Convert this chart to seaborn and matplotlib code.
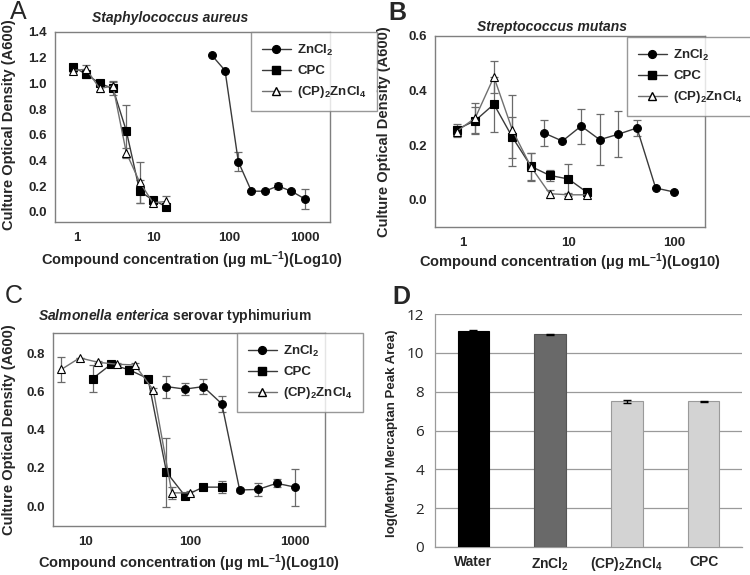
import numpy as np
import pandas as pd
import matplotlib
matplotlib.use("Agg")
import matplotlib.pyplot as plt
from matplotlib.lines import Line2D
from matplotlib.ticker import FixedLocator, FixedFormatter, NullLocator
import seaborn as sns

sns.set_theme(style="white")
plt.rcParams['font.family'] = ['Liberation Sans', 'DejaVu Sans']
plt.rcParams['font.weight'] = 'bold'
plt.rcParams['mathtext.fontset'] = 'custom'
plt.rcParams['mathtext.rm'] = 'Liberation Sans:bold'
plt.rcParams['mathtext.bf'] = 'Liberation Sans:bold'
plt.rcParams['mathtext.it'] = 'Liberation Sans:italic:bold'

# ---------------- data ----------------
# Panel A: Staphylococcus aureus
a_low_x = [0.88, 1.32, 1.98, 2.96, 4.44, 6.67, 10, 15]
a_cpc_y = [1.13, 1.07, 1.00, 0.96, 0.63, 0.16, 0.09, 0.04]
a_cpc_e = [0.02, 0.03, 0.01, 0.05, 0.20, 0.09, 0.02, 0.01]
a_cp2_y = [1.10, 1.11, 0.96, 0.98, 0.46, 0.23, 0.07, 0.08]
a_cp2_e = [0.01, 0.03, 0.03, 0.04, 0.04, 0.16, 0.01, 0.04]
a_zn_x = [59.3, 88.9, 133, 198, 296, 444, 667, 1000]
a_zn_y = [1.22, 1.10, 0.39, 0.16, 0.16, 0.20, 0.16, 0.10]
a_zn_e = [0.0, 0.0, 0.075, 0.01, 0.01, 0.02, 0.01, 0.075]

# Panel B: Streptococcus mutans
b_low_x = [0.88, 1.32, 1.98, 2.96, 4.44, 6.67, 10, 15]
b_cpc_y = [0.257, 0.29, 0.35, 0.229, 0.122, 0.089, 0.076, 0.027]
b_cpc_e = [0.02, 0.05, 0.10, 0.075, 0.05, 0.02, 0.055, 0.005]
b_cp2_y = [0.25, 0.30, 0.45, 0.255, 0.12, 0.022, 0.018, 0.018]
b_cp2_e = [0.02, 0.055, 0.06, 0.13, 0.05, 0.015, 0.005, 0.005]
b_zn_x = [5.85, 8.78, 13.2, 19.75, 29.6, 44.4, 66.7, 100]
b_zn_y = [0.245, 0.215, 0.27, 0.22, 0.24, 0.263, 0.043, 0.028]
b_zn_e = [0.047, 0.0, 0.064, 0.094, 0.085, 0.03, 0.0, 0.0]

# Panel C: Salmonella enterica serovar typhimurium
c_cp2_x = [5.9, 8.8, 13.2, 19.8, 29.6, 44.4, 66.7, 100]
c_cp2_y = [0.715, 0.775, 0.752, 0.742, 0.738, 0.607, 0.07, 0.07]
c_cp2_e = [0.065, 0.0, 0.005, 0.005, 0.01, 0.01, 0.03, 0.01]
c_cpc_x = [11.7, 17.6, 26.3, 39.5, 59.3, 88.9, 133, 200]
c_cpc_y = [0.667, 0.742, 0.712, 0.667, 0.178, 0.055, 0.10, 0.10]
c_cpc_e = [0.07, 0.005, 0.02, 0.01, 0.18, 0.005, 0.005, 0.03]
c_zn_x = [59.3, 88.9, 133, 200, 296, 444, 667, 1000]
c_zn_y = [0.625, 0.612, 0.625, 0.535, 0.085, 0.088, 0.12, 0.10]
c_zn_e = [0.058, 0.03, 0.04, 0.04, 0.01, 0.035, 0.02, 0.097]

# Panel D: methyl mercaptan
d_cats = ['Water', r'ZnCl$_2$', r'(CP)$_2$ZnCl$_4$', 'CPC']
d_vals = [11.15, 10.95, 7.50, 7.50]
d_errs = [0.03, 0.02, 0.08, 0.03]
d_colors = ['#000000', '#696969', '#d3d3d3', '#d3d3d3']
d_edges = ['#000000', '#555555', '#9a9a9a', '#9a9a9a']

lab_zn = r'ZnCl$_2$'
lab_cpc = 'CPC'
lab_cp2 = r'(CP)$_2$ZnCl$_4$'

W, H = 750, 575
fig = plt.figure(figsize=(7.5, 5.75), dpi=100)
fig.patch.set_facecolor('white')

def ax_px(l, t, r, b):
    return fig.add_axes([l / W, 1 - b / H, (r - l) / W, (b - t) / H])

FRAME = '#7f7f7f'
LINE = '#3a3a3a'
ECOL = '#6a6a6a'
TICK_FS = 9.5
LAB_FS = 10.5
MS = 5.6

styles = {
    'zn': dict(marker='o', mfc='black', mec='black', color=LINE),
    'cpc': dict(marker='s', mfc='black', mec='black', color=LINE),
    'cp2': dict(marker='^', mfc='white', mec='black', color='#707070'),
}

def draw_series(ax, x, y, e, key):
    st = styles[key]
    ax.errorbar(x, y, yerr=e, fmt='none', ecolor=ECOL, elinewidth=0.9,
                capsize=3, capthick=0.9, zorder=2)
    df = pd.DataFrame({'x': x, 'y': y})
    sns.lineplot(data=df, x='x', y='y', ax=ax, color=st['color'], lw=1.0,
                 marker=st['marker'], markersize=MS,
                 markerfacecolor=st['mfc'], markeredgecolor=st['mec'],
                 markeredgewidth=0.8, estimator=None, sort=False, zorder=3,
                 legend=False)

def style_curve_ax(ax, xlim, ylim, yticks, xticks):
    ax.set_xscale('log')
    ax.set_xlim(*xlim)
    ax.set_ylim(*ylim)
    ax.xaxis.set_major_locator(FixedLocator(xticks))
    ax.xaxis.set_major_formatter(FixedFormatter([str(int(t)) for t in xticks]))
    ax.xaxis.set_minor_locator(NullLocator())
    ax.set_yticks(yticks)
    ax.set_yticklabels([f'{t:.1f}' for t in yticks])
    for s in ax.spines.values():
        s.set_visible(True)
        s.set_color(FRAME)
        s.set_linewidth(1.0)
    ax.tick_params(axis='both', which='major', direction='out', length=3,
                   width=0.8, color='#333333', labelsize=TICK_FS)
    ax.tick_params(axis='x', pad=4.5)
    ax.tick_params(axis='y', pad=3)
    for lab in ax.get_xticklabels() + ax.get_yticklabels():
        lab.set_fontweight('bold')
    ax.set_xlabel('')
    ax.set_ylabel('')

def add_legend(x, y):
    handles = [Line2D([], [], color=LINE, lw=1.0, marker='o', mfc='black', mec='black', ms=MS),
               Line2D([], [], color=LINE, lw=1.0, marker='s', mfc='black', mec='black', ms=MS),
               Line2D([], [], color='#707070', lw=1.0, marker='^', mfc='white', mec='black', ms=MS)]
    leg = fig.legend(handles, [lab_zn, lab_cpc, lab_cp2], loc='upper left',
                     bbox_to_anchor=(x / W, 1 - y / H), bbox_transform=fig.transFigure,
                     frameon=True, fancybox=False, borderaxespad=0, borderpad=0.8,
                     handlelength=2.2, handletextpad=0.5, labelspacing=0.55,
                     prop={'size': 9.5, 'weight': 'bold'})
    leg.get_frame().set_edgecolor(FRAME)
    leg.get_frame().set_linewidth(1.0)

XLAB = 'Compound concentration (\u03bcg mL$^{-1}$)(Log10)'
YLAB = 'Culture Optical Density (A600)'

# ---------- Panel A ----------
axA = ax_px(55, 32, 330, 222)
draw_series(axA, a_low_x, a_cpc_y, a_cpc_e, 'cpc')
draw_series(axA, a_low_x, a_cp2_y, a_cp2_e, 'cp2')
draw_series(axA, a_zn_x, a_zn_y, a_zn_e, 'zn')
style_curve_ax(axA, (0.51, 2150), (-0.08, 1.4), [0.0, 0.2, 0.4, 0.6, 0.8, 1.0, 1.2, 1.4], [1, 10, 100, 1000])
add_legend(251, 32)
fig.text(170 / W, 1 - 18 / H, 'Staphylococcus aureus', ha='center', va='center',
         fontsize=10, fontweight='bold', fontstyle='italic')
fig.text(192 / W, 1 - 260 / H, XLAB, ha='center', va='center', fontsize=LAB_FS, fontweight='bold')
fig.text(9 / W, 1 - 125 / H, YLAB, ha='center', va='center', rotation=90, fontsize=LAB_FS, fontweight='bold')
fig.text(10 / W, 1 - 12 / H, 'A', ha='left', va='center', fontsize=18, fontweight='normal')

# ---------- Panel B ----------
axB = ax_px(435, 36, 705, 227)
draw_series(axB, b_low_x, b_cpc_y, b_cpc_e, 'cpc')
draw_series(axB, b_low_x, b_cp2_y, b_cp2_e, 'cp2')
draw_series(axB, b_zn_x, b_zn_y, b_zn_e, 'zn')
style_curve_ax(axB, (0.55, 195), (-0.1, 0.6), [0.0, 0.2, 0.4, 0.6], [1, 10, 100])
add_legend(627, 37)
fig.text(552 / W, 1 - 27 / H, 'Streptococcus mutans', ha='center', va='center',
         fontsize=10, fontweight='bold', fontstyle='italic')
fig.text(570 / W, 1 - 262 / H, XLAB, ha='center', va='center', fontsize=LAB_FS, fontweight='bold')
fig.text(384 / W, 1 - 132 / H, YLAB, ha='center', va='center', rotation=90, fontsize=LAB_FS, fontweight='bold')
fig.text(388 / W, 1 - 13 / H, 'B', ha='left', va='center', fontsize=18, fontweight='bold')

# ---------- Panel C ----------
axC = ax_px(53, 333, 325, 526)
draw_series(axC, c_cpc_x, c_cpc_y, c_cpc_e, 'cpc')
draw_series(axC, c_cp2_x, c_cp2_y, c_cp2_e, 'cp2')
draw_series(axC, c_zn_x, c_zn_y, c_zn_e, 'zn')
style_curve_ax(axC, (4.9, 1930), (-0.103, 0.905), [0.0, 0.2, 0.4, 0.6, 0.8], [10, 100, 1000])
add_legend(237, 333)
fig.text(175 / W, 1 - 316 / H, r'$\mathit{Salmonella\ enterica}$ serovar typhimurium',
         ha='center', va='center', fontsize=10, fontweight='bold')
fig.text(189 / W, 1 - 563 / H, XLAB, ha='center', va='center', fontsize=LAB_FS, fontweight='bold')
fig.text(9 / W, 1 - 430 / H, YLAB, ha='center', va='center', rotation=90, fontsize=LAB_FS, fontweight='bold')
fig.text(5 / W, 1 - 296 / H, 'C', ha='left', va='center', fontsize=18, fontweight='normal')

# ---------- Panel D ----------
axD = ax_px(435, 314, 742, 547)
dfD = pd.DataFrame({'cat': d_cats, 'val': d_vals})
sns.barplot(data=dfD, x='cat', y='val', hue='cat', palette=d_colors, ax=axD,
            width=0.41, legend=False, zorder=3)
for p, ec in zip(axD.patches, d_edges):
    p.set_edgecolor(ec)
    p.set_linewidth(0.8)
axD.errorbar(range(len(d_cats)), d_vals, yerr=d_errs, fmt='none', ecolor='black',
             elinewidth=1.0, capsize=3, capthick=1.0, zorder=4)
axD.set_xlim(-0.5, 3.5)
axD.set_ylim(0, 12)
axD.set_yticks(range(0, 13, 2))
axD.yaxis.grid(True, color='#9a9a9a', lw=0.9)
axD.set_axisbelow(True)
for s in ['top', 'right']:
    axD.spines[s].set_visible(False)
axD.spines['left'].set_color('#9a9a9a')
axD.spines['bottom'].set_color('#9a9a9a')
axD.spines['left'].set_linewidth(0.9)
axD.spines['bottom'].set_linewidth(0.9)
axD.set_xticks(range(4))
axD.set_xticklabels(d_cats)
axD.xaxis.set_minor_locator(FixedLocator([-0.5, 0.5, 1.5, 2.5, 3.5]))
axD.tick_params(axis='x', which='major', length=0, pad=6, labelsize=10)
axD.tick_params(axis='x', which='minor', length=5, color='#9a9a9a', width=0.9, direction='out')
axD.tick_params(axis='y', which='major', length=5, color='#9a9a9a', width=0.9, direction='out',
                labelsize=11, pad=3)
for lab in axD.get_xticklabels():
    lab.set_fontweight('bold')
for lab in axD.get_yticklabels():
    lab.set_fontweight('normal')
    lab.set_fontfamily(['Open Sans', 'DejaVu Sans'])
axD.set_xlabel('')
axD.set_ylabel('')
fig.text(392 / W, 1 - 433 / H, 'log(Methyl Mercaptan Peak Area)', ha='center', va='center',
         rotation=90, fontsize=9.5, fontweight='bold')
fig.text(392 / W, 1 - 297 / H, 'D', ha='left', va='center', fontsize=18, fontweight='bold')

fig.savefig('out.png', dpi=100, facecolor='white')
